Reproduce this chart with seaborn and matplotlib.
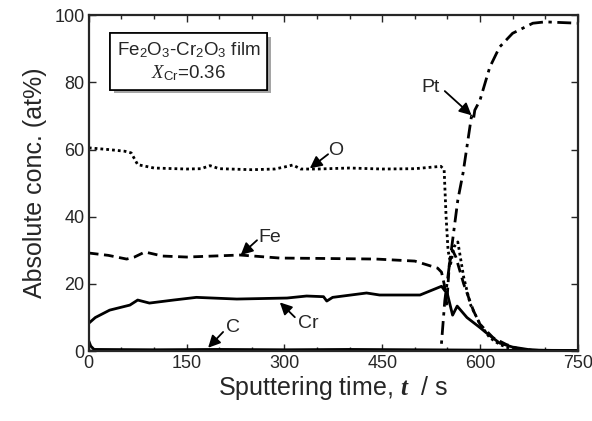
import numpy as np
import pandas as pd
import matplotlib
matplotlib.use("Agg")
import matplotlib.pyplot as plt
import matplotlib.patheffects as pe
from matplotlib.ticker import MultipleLocator
import seaborn as sns

# ---- data ----
o_t = [0, 30, 55, 65, 75, 100, 150, 172, 186, 200, 250, 285, 300, 313, 325, 350, 400, 450, 500, 540, 545, 548, 551, 555, 560, 566, 575, 585, 600, 615, 630, 650, 680, 750]
o_c = [60.5, 60.0, 59.5, 59.0, 55.5, 54.5, 54.2, 54.3, 55.2, 54.3, 54.0, 54.2, 54.8, 55.4, 54.2, 54.2, 54.5, 54.2, 54.3, 55.0, 54.0, 40.0, 30.0, 26.0, 31.0, 32.5, 22.0, 14.0, 8.0, 4.0, 2.0, 0.5, 0.1, 0.0]

fe_t = [0, 30, 58, 70, 86, 113, 150, 232, 293, 350, 441, 500, 535, 541, 545, 549, 553, 558, 563, 575, 590, 600, 620, 640, 660, 700, 750]
fe_c = [29.2, 28.5, 27.4, 28.0, 29.5, 28.3, 28.0, 28.6, 27.7, 27.6, 27.4, 26.8, 24.7, 23.5, 20.0, 14.0, 26.0, 30.0, 28.0, 20.0, 12.0, 8.0, 4.0, 2.0, 0.6, 0.1, 0.0]

cr_t = [0, 10, 32, 63, 75, 93, 130, 165, 227, 304, 334, 360, 365, 374, 426, 446, 508, 541, 550, 558, 565, 580, 600, 610, 630, 650, 680, 750]
cr_c = [8.3, 10.0, 12.2, 13.7, 15.2, 14.3, 15.2, 16.0, 15.5, 15.8, 16.4, 16.2, 14.9, 16.0, 17.3, 16.7, 16.7, 19.3, 17.0, 10.7, 13.4, 10.0, 7.0, 5.4, 2.4, 1.2, 0.3, 0.1]

pt_t = [0, 540, 546, 556, 566, 574, 587, 590, 592, 600, 615, 630, 650, 681, 700, 750]
pt_c = [0.0, 0.0, 15.0, 30.0, 45.0, 53.0, 70.0, 69.0, 71.7, 74.7, 84.5, 90.5, 94.6, 97.6, 98.0, 97.6]

c_t = [0, 3, 8, 100, 200, 300, 400, 500, 600, 750]
c_c = [3.0, 1.5, 0.5, 0.4, 0.5, 0.4, 0.5, 0.4, 0.3, 0.2]

# annotations: label, text position, arrow tail, arrow head
ann_labels = ["O", "Fe", "Cr", "C", "Pt"]
ann_text = [(378, 59.8), (278, 33.8), (336, 8.3), (221, 7.1), (524, 78.6)]
ann_tail = [(367, 58.6), (258, 33.0), (316, 10.1), (206, 5.7), (546, 77.4)]
ann_head = [(339, 54.4), (233, 28.6), (293, 14.5), (183, 1.0), (587, 70.2)]

sns.set_style("ticks")
plt.rcParams["font.family"] = ["Liberation Sans", "DejaVu Sans"]
plt.rcParams["mathtext.fontset"] = "custom"
plt.rcParams["mathtext.rm"] = "Liberation Sans"
plt.rcParams["mathtext.it"] = "Liberation Serif:italic"
plt.rcParams["mathtext.bf"] = "Liberation Serif:italic:bold"

fig = plt.figure(figsize=(5.92, 4.21), dpi=100)
ax = fig.add_axes([0.150, 0.166, 0.826, 0.798])

lw = 2.0
series = [
    (o_t, o_c, (0, (1, 1.1))),
    (fe_t, fe_c, (0, (3.5, 2.0))),
    (cr_t, cr_c, "-"),
    (pt_t, pt_c, (0, (5, 2, 1.2, 2))),
    (c_t, c_c, "-"),
]
for t, c, ls in series:
    df = pd.DataFrame({"t": t, "c": c})
    sns.lineplot(data=df, x="t", y="c", ax=ax, color="black", linewidth=lw,
                 linestyle=ls, estimator=None, sort=False)

ax.set_xlim(0, 750)
ax.set_ylim(0, 100)
ax.xaxis.set_major_locator(MultipleLocator(150))
ax.xaxis.set_minor_locator(MultipleLocator(50))
ax.yaxis.set_major_locator(MultipleLocator(20))
ax.tick_params(which="both", direction="in", top=True, right=True, width=1.0)
ax.tick_params(which="major", length=5, labelsize=13, pad=3)
ax.tick_params(which="minor", length=3)
for s in ax.spines.values():
    s.set_linewidth(1.6)

ax.set_xlabel("Sputtering time, $\\mathbf{t}$  / s", fontsize=18, labelpad=1)
ax.set_ylabel("Absolute conc. (at%)", fontsize=18, labelpad=5)

for lab, tp, tl, hp in zip(ann_labels, ann_text, ann_tail, ann_head):
    ax.text(tp[0], tp[1], lab, fontsize=14, ha="center", va="center")
    ax.annotate("", xy=hp, xytext=tl,
                arrowprops=dict(arrowstyle="-|>,head_length=0.6,head_width=0.3",
                                color="black", lw=1.3, shrinkA=0, shrinkB=0,
                                mutation_scale=12))

txt = ax.text(153, 86.2, "Fe$_2$O$_3$-Cr$_2$O$_3$ film\n$X_{\\rm Cr}$=0.36",
              fontsize=13.5, ha="center", va="center", linespacing=1.25,
              bbox=dict(boxstyle="square,pad=0.35", fc="white", ec="black", lw=1.2))
txt.get_bbox_patch().set_path_effects([pe.withSimplePatchShadow(offset=(2.5, -2.5), alpha=0.5), pe.Normal()])

fig.savefig("out.png", dpi=100)
